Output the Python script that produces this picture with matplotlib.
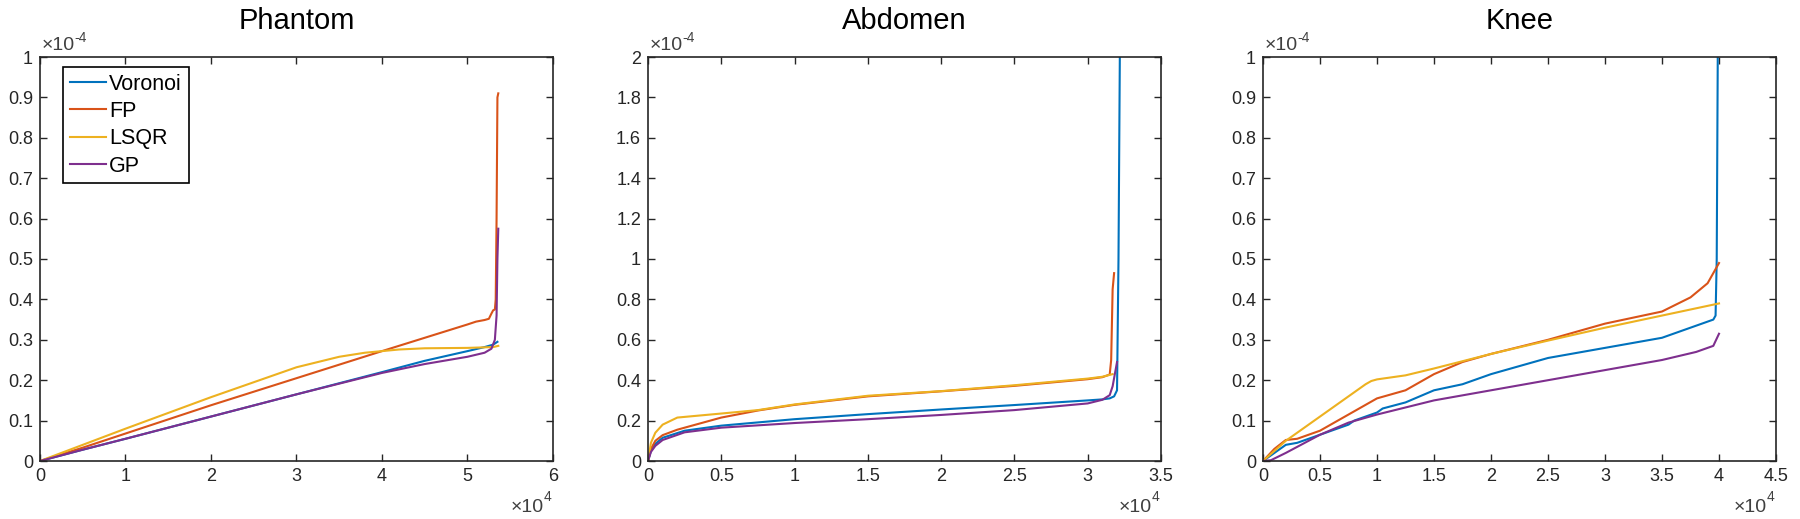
import matplotlib
matplotlib.use("Agg")
import matplotlib.pyplot as plt
from matplotlib.ticker import FuncFormatter, MultipleLocator

plt.rcParams['font.family'] = ['Liberation Sans', 'DejaVu Sans']

series_names = ["Voronoi", "FP", "LSQR", "GP"]
colors = ["#0072BD", "#D95319", "#EDB120", "#7E2F8E"]

# ---- Phantom (x in 1e4, y in 1e-4) ----
ph_vor_x = [0, 0.5, 1, 2, 3, 4, 4.5, 5, 5.2, 5.3, 5.35]
ph_vor_y = [0, 0.028, 0.055, 0.11, 0.165, 0.22, 0.248, 0.272, 0.282, 0.288, 0.295]
ph_fp_x = [0, 0.5, 1, 2, 3, 4, 5, 5.1, 5.2, 5.25, 5.28, 5.3, 5.32, 5.33, 5.34, 5.35, 5.36]
ph_fp_y = [0, 0.033, 0.068, 0.138, 0.205, 0.272, 0.338, 0.345, 0.349, 0.352, 0.365, 0.373, 0.375, 0.40, 0.60, 0.90, 0.91]
ph_lsqr_x = [0, 0.5, 1, 2, 3, 3.5, 3.8, 4.0, 4.2, 4.5, 5.0, 5.3, 5.36]
ph_lsqr_y = [0, 0.04, 0.08, 0.158, 0.232, 0.258, 0.268, 0.272, 0.276, 0.279, 0.28, 0.282, 0.285]
ph_gp_x = [0, 0.5, 1, 2, 3, 4, 4.5, 5.0, 5.2, 5.28, 5.32, 5.34, 5.35, 5.36]
ph_gp_y = [0, 0.028, 0.055, 0.11, 0.165, 0.218, 0.24, 0.258, 0.268, 0.278, 0.30, 0.36, 0.50, 0.575]

# ---- Abdomen ----
ab_vor_x = [0, 0.02, 0.05, 0.1, 0.25, 0.5, 1, 1.5, 2, 2.5, 3, 3.1, 3.15, 3.18, 3.2, 3.21, 3.22]
ab_vor_y = [0, 0.05, 0.085, 0.115, 0.15, 0.175, 0.207, 0.232, 0.255, 0.277, 0.30, 0.305, 0.31, 0.32, 0.35, 1.0, 2.1]
ab_fp_x = [0, 0.02, 0.05, 0.1, 0.2, 0.5, 0.75, 1, 1.5, 2, 2.5, 3, 3.1, 3.15, 3.16, 3.17, 3.18]
ab_fp_y = [0, 0.06, 0.1, 0.128, 0.155, 0.215, 0.25, 0.278, 0.32, 0.345, 0.372, 0.405, 0.415, 0.428, 0.50, 0.85, 0.93]
ab_lsqr_x = [0, 0.02, 0.05, 0.1, 0.2, 0.5, 0.75, 1, 1.5, 2, 2.5, 3, 3.1, 3.17]
ab_lsqr_y = [0, 0.09, 0.14, 0.18, 0.215, 0.235, 0.252, 0.28, 0.323, 0.346, 0.375, 0.408, 0.417, 0.43]
ab_gp_x = [0, 0.02, 0.05, 0.1, 0.25, 0.5, 1, 1.5, 2, 2.5, 3, 3.1, 3.15, 3.17, 3.19, 3.2]
ab_gp_y = [0, 0.045, 0.075, 0.104, 0.142, 0.165, 0.188, 0.207, 0.228, 0.252, 0.285, 0.303, 0.326, 0.37, 0.45, 0.49]

# ---- Knee ----
kn_vor_x = [0, 0.1, 0.2, 0.3, 0.5, 0.75, 0.8, 0.9, 1.0, 1.05, 1.25, 1.5, 1.75, 2.0, 2.5, 3.0, 3.5, 3.75, 3.95, 3.97, 3.98, 3.99]
kn_vor_y = [0, 0.02, 0.04, 0.045, 0.065, 0.09, 0.10, 0.11, 0.12, 0.13, 0.145, 0.175, 0.19, 0.215, 0.255, 0.28, 0.305, 0.33, 0.35, 0.36, 0.5, 1.05]
kn_fp_x = [0, 0.1, 0.2, 0.3, 0.5, 0.75, 1.0, 1.25, 1.5, 1.75, 2.0, 2.5, 3.0, 3.5, 3.75, 3.9, 4.0]
kn_fp_y = [0, 0.03, 0.052, 0.055, 0.075, 0.115, 0.155, 0.175, 0.215, 0.245, 0.265, 0.30, 0.34, 0.37, 0.405, 0.44, 0.49]
kn_lsqr_x = [0, 0.1, 0.2, 0.5, 0.7, 0.8, 0.9, 0.95, 1.0, 1.25, 1.5, 2.0, 2.5, 3.0, 3.5, 4.0]
kn_lsqr_y = [0, 0.025, 0.05, 0.11, 0.15, 0.17, 0.19, 0.198, 0.202, 0.212, 0.229, 0.265, 0.298, 0.33, 0.36, 0.39]
kn_gp_x = [0, 0.07, 0.2, 0.5, 0.75, 1.0, 1.5, 2.0, 2.5, 3.0, 3.5, 3.8, 3.95, 4.0]
kn_gp_y = [0, 0.002, 0.02, 0.065, 0.095, 0.115, 0.15, 0.175, 0.20, 0.225, 0.25, 0.27, 0.285, 0.315]

panels = [
    ("Phantom", [(ph_vor_x, ph_vor_y), (ph_fp_x, ph_fp_y), (ph_lsqr_x, ph_lsqr_y), (ph_gp_x, ph_gp_y)],
     6, 1, 1, 0.1),
    ("Abdomen", [(ab_vor_x, ab_vor_y), (ab_fp_x, ab_fp_y), (ab_lsqr_x, ab_lsqr_y), (ab_gp_x, ab_gp_y)],
     3.5, 2, 0.5, 0.2),
    ("Knee", [(kn_vor_x, kn_vor_y), (kn_fp_x, kn_fp_y), (kn_lsqr_x, kn_lsqr_y), (kn_gp_x, kn_gp_y)],
     4.5, 1, 0.5, 0.1),
]

fig = plt.figure(figsize=(18, 5.19), dpi=100)
lefts = [40 / 1800, 648 / 1800, 1263 / 1800]
W = 513 / 1800
B = (519 - 461) / 519
H = (461 - 57) / 519

fmt = FuncFormatter(lambda v, p: ("%g" % round(v, 6)))
axcol = "#262626"
mult_col = "#404040"

for i, (title, data, xmax, ymax, xstep, ystep) in enumerate(panels):
    ax = fig.add_axes([lefts[i], B, W, H])
    for (xs, ys), c, n in zip(data, colors, series_names):
        ax.plot(xs, ys, color=c, lw=1.5, label=n)
    ax.set_xlim(0, xmax)
    ax.set_ylim(0, ymax)
    ax.xaxis.set_major_locator(MultipleLocator(xstep))
    ax.yaxis.set_major_locator(MultipleLocator(ystep))
    ax.xaxis.set_major_formatter(fmt)
    ax.yaxis.set_major_formatter(fmt)
    ax.tick_params(direction='in', top=True, right=True, length=5, width=1,
                   labelsize=13, colors=axcol, pad=5)
    for s in ax.spines.values():
        s.set_linewidth(1.2)
        s.set_color(axcol)
    ax.set_title(title, fontsize=21, pad=20)
    # multiplier labels
    ax.annotate("\u00d710", xy=(0, 1), xycoords='axes fraction',
                xytext=(1, 2), textcoords='offset points', fontsize=14,
                ha='left', va='bottom', color=mult_col)
    ax.annotate("-4", xy=(0, 1), xycoords='axes fraction',
                xytext=(25, 9), textcoords='offset points', fontsize=10,
                ha='left', va='bottom', color=mult_col)
    ax.annotate("\u00d710", xy=(1, 0), xycoords='axes fraction',
                xytext=(-7, -27), textcoords='offset points', fontsize=14,
                ha='right', va='top', color=mult_col)
    ax.annotate("4", xy=(1, 0), xycoords='axes fraction',
                xytext=(-7, -21), textcoords='offset points', fontsize=10,
                ha='left', va='top', color=mult_col)
    if i == 0:
        leg = ax.legend(loc='upper left', bbox_to_anchor=(0.045, 0.975), fontsize=15.5,
                        fancybox=False, edgecolor='black', framealpha=1,
                        handlelength=1.7, handletextpad=0.15, labelspacing=0.3,
                        borderpad=0.3, borderaxespad=0)
        leg.get_frame().set_linewidth(1.2)

fig.savefig("out.png", dpi=100)
